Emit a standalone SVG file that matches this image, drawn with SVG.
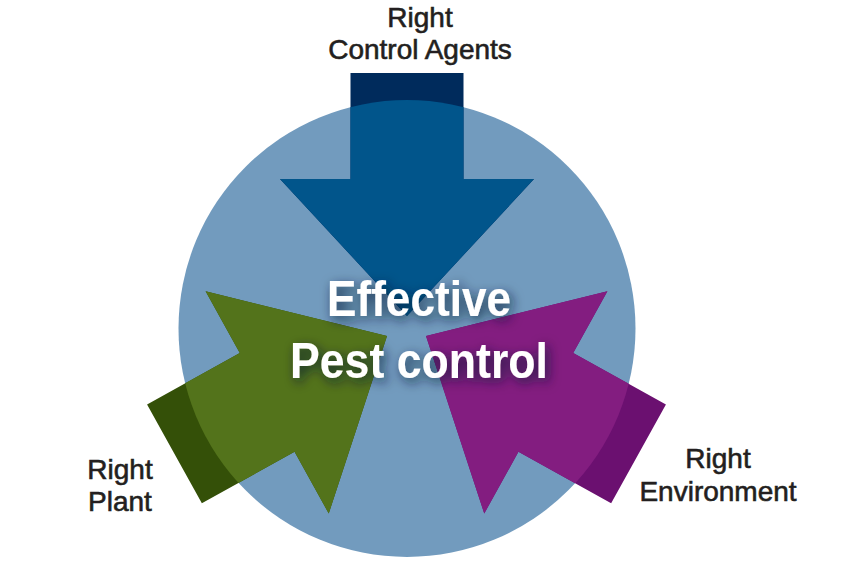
<svg xmlns="http://www.w3.org/2000/svg" xmlns:xlink="http://www.w3.org/1999/xlink" width="864" height="576" viewBox="0 0 864 576">
<style>
.lbl{font-family:"Liberation Sans",Arial,sans-serif;font-size:28px;fill:#231f20;text-anchor:middle;stroke:#231f20;stroke-width:0.6}
.main{font-family:"Liberation Sans",Arial,sans-serif;font-size:50px;font-weight:bold;fill:#ffffff;text-anchor:middle}
</style>
<defs>
<polygon id="arrow" points="0,0 -127,-137 -56.5,-137 -56.5,-243 56.5,-243 56.5,-137 127,-137"/>
<clipPath id="circ"><circle cx="407" cy="328.5" r="228.5"/></clipPath>
<filter id="glow" x="-20%" y="-40%" width="140%" height="180%">
<feGaussianBlur in="SourceAlpha" stdDeviation="6" result="b"/>
<feOffset in="b" dx="3" dy="4" result="o"/>
<feFlood flood-color="#0b1a33" flood-opacity="0.8"/>
<feComposite in2="o" operator="in" result="s"/>
<feMerge><feMergeNode in="s"/><feMergeNode in="SourceGraphic"/></feMerge>
</filter>
</defs>
<rect width="864" height="576" fill="#ffffff"/>
<g id="circle-node"><circle cx="407" cy="328.5" r="228.5" fill="#729bbe"/></g>
<g id="connectors">
<g id="arrow-agents">
<use xlink:href="#arrow" href="#arrow" fill="#002b5c" transform="translate(407,316)"/>
<g clip-path="url(#circ)"><use xlink:href="#arrow" href="#arrow" fill="#01558b" transform="translate(407,316)"/></g>
</g>
<g id="arrow-plant">
<use xlink:href="#arrow" href="#arrow" fill="#345008" transform="translate(387,336) rotate(-119)"/>
<g clip-path="url(#circ)"><use xlink:href="#arrow" href="#arrow" fill="#53731b" transform="translate(387,336) rotate(-119)"/></g>
</g>
<g id="arrow-environment">
<use xlink:href="#arrow" href="#arrow" fill="#6b1070" transform="translate(426,336) rotate(119)"/>
<g clip-path="url(#circ)"><use xlink:href="#arrow" href="#arrow" fill="#831d80" transform="translate(426,336) rotate(119)"/></g>
</g>
</g>
<g id="center-label" filter="url(#glow)">
<text class="main" x="419" y="316" textLength="184" lengthAdjust="spacingAndGlyphs">Effective</text>
<text class="main" x="419" y="378" textLength="258" lengthAdjust="spacingAndGlyphs">Pest control</text>
</g>
<g id="label-agents">
<text class="lbl" x="420" y="27">Right</text>
<text class="lbl" x="420" y="59">Control Agents</text>
</g>
<g id="label-plant">
<text class="lbl" x="120" y="479">Right</text>
<text class="lbl" x="120" y="511">Plant</text>
</g>
<g id="label-environment">
<text class="lbl" x="718" y="468">Right</text>
<text class="lbl" x="718" y="501">Environment</text>
</g>
</svg>
